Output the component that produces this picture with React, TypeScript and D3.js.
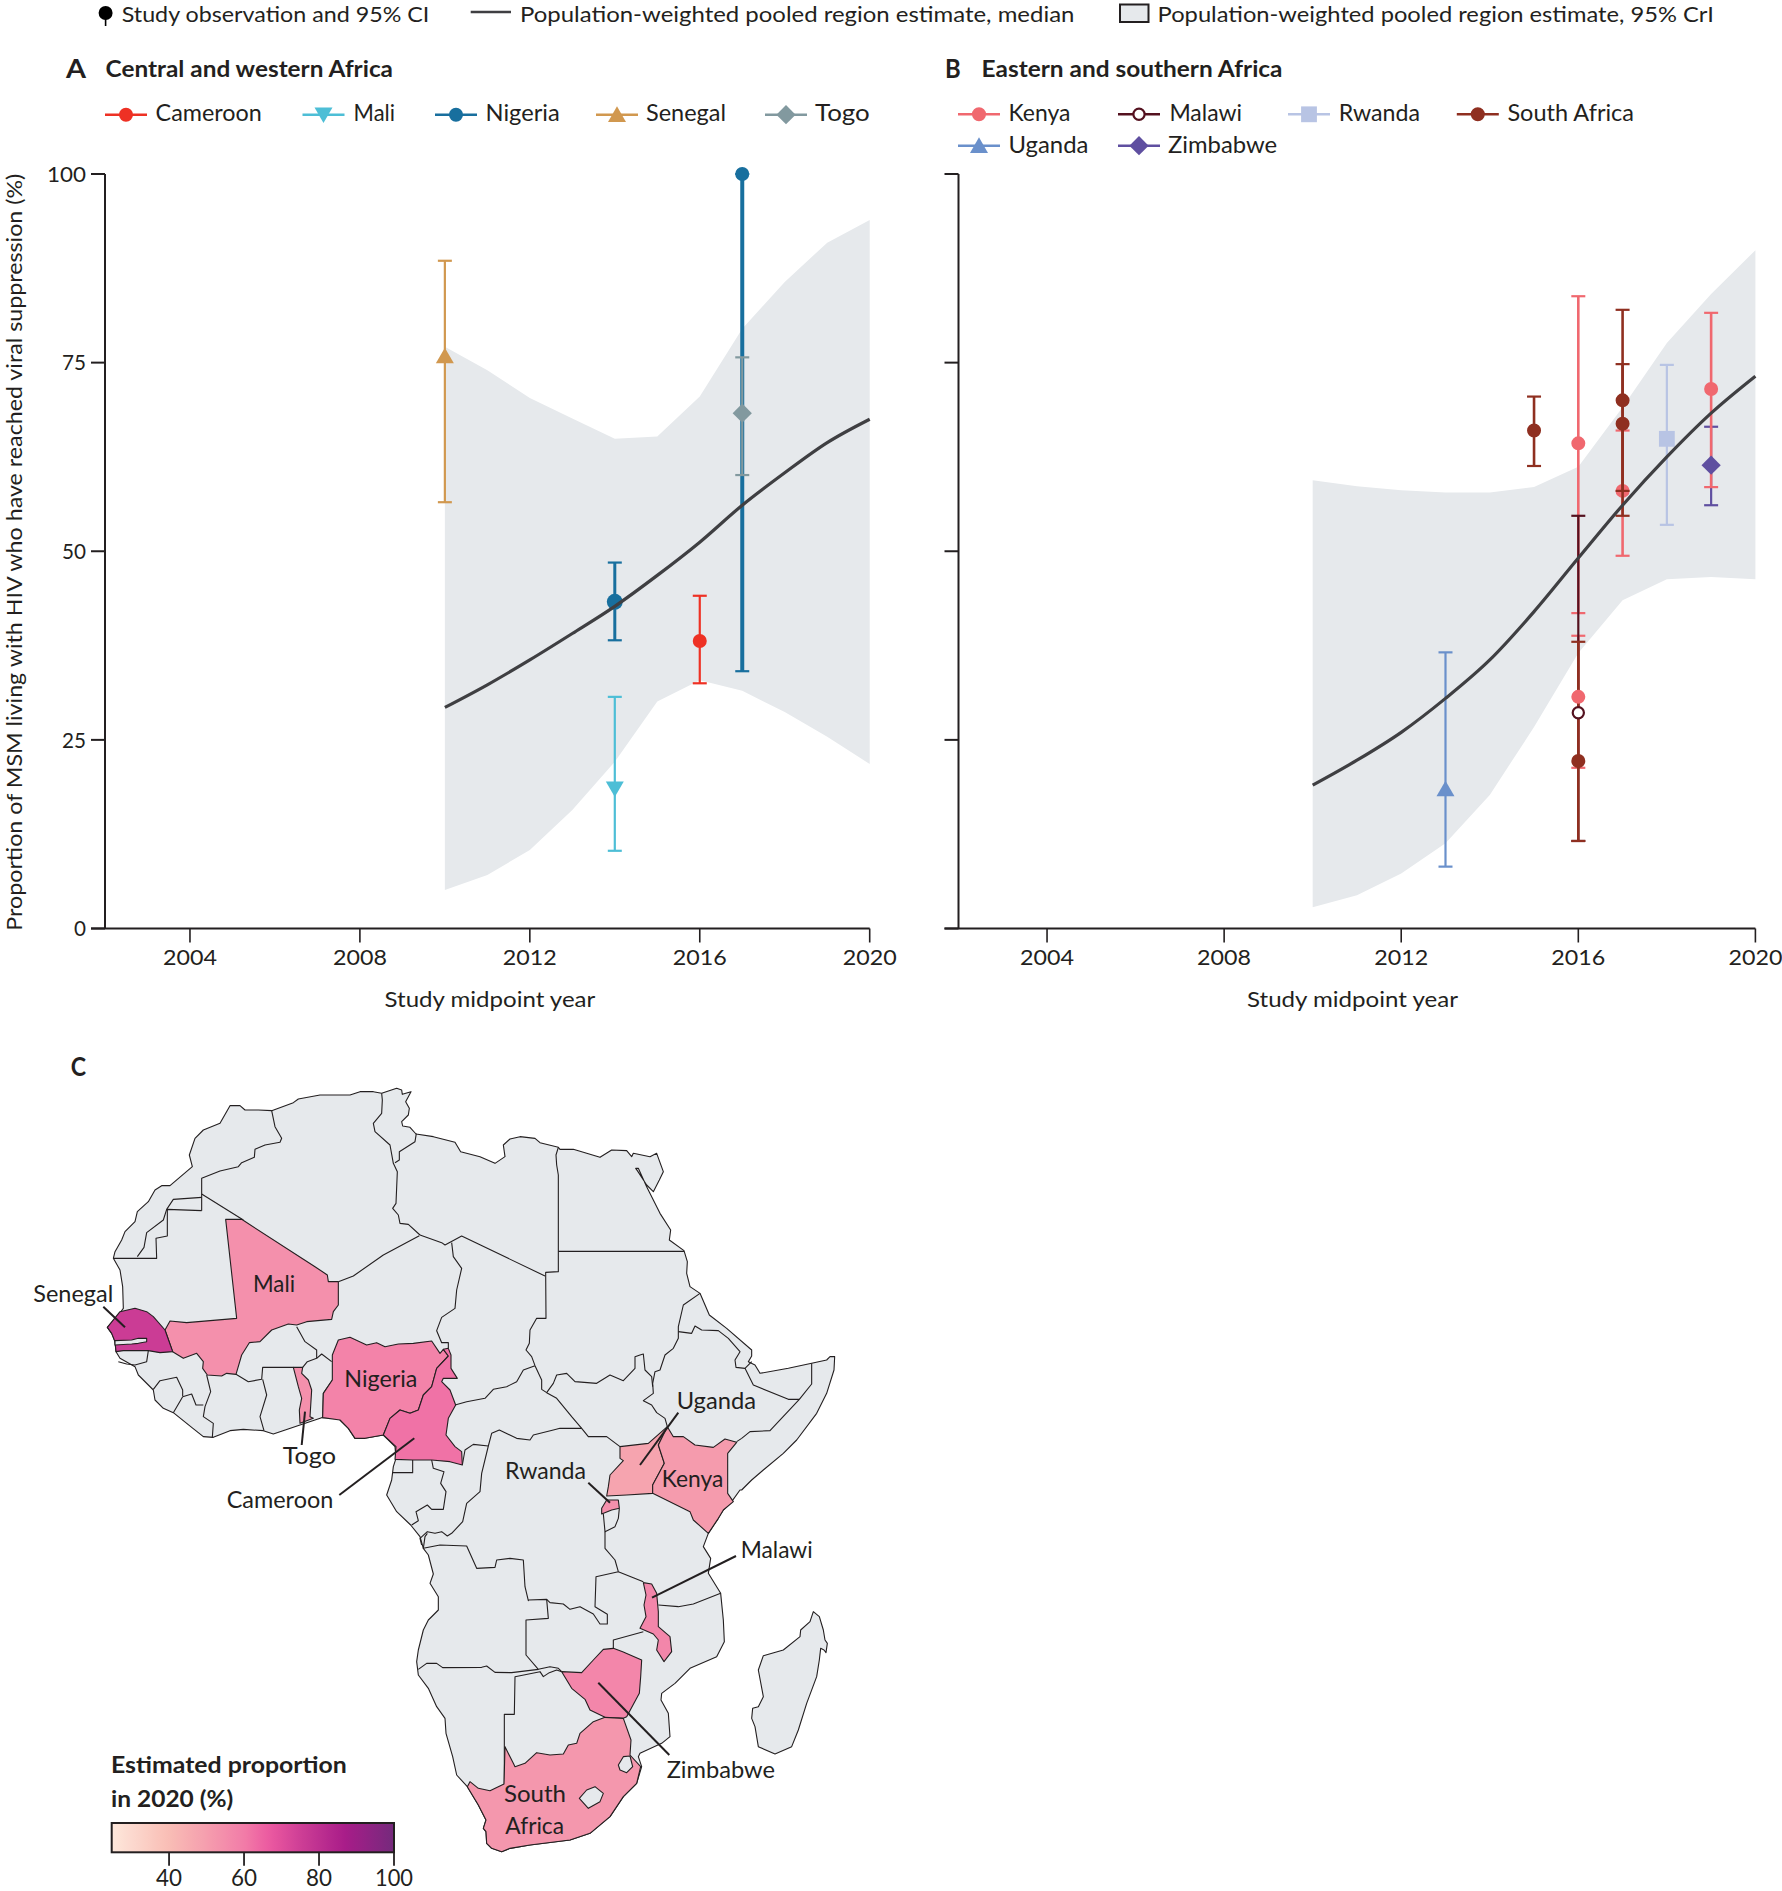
import React from "react";
import * as d3 from "d3";

// ---------- panel data ----------
const years = [2010, 2011, 2012, 2013, 2014, 2015, 2016, 2017, 2018, 2019, 2020];
const westUpper = [77.1, 74, 70.3, 67.6, 64.9, 65.2, 70.5, 79.5, 85.7, 90.9, 93.9];
const westLower = [5.1, 7.1, 10.4, 15.7, 22.1, 30.1, 32.9, 31.5, 28.7, 25.4, 21.8];
const westMedian = [29.3, 32.3, 35.6, 39.1, 42.7, 46.8, 51.2, 56.1, 60.4, 64.4, 67.5];
const eastUpper = [59.4, 58.6, 58.1, 57.8, 57.8, 58.5, 61.2, 69.1, 77.6, 84.1, 89.9];
const eastLower = [2.8, 4.4, 7.3, 11.3, 17.7, 26.7, 36.5, 43.5, 46.3, 46.6, 46.3];
const eastMedian = [19, 22.3, 26, 30.5, 35.6, 42, 49.1, 56.1, 62.5, 68.3, 73.2];

type Obs = { c: string; year: number; mean: number; lo: number; hi: number; heavy?: number };
const westObs: Obs[] = [
  { c: "Senegal", year: 2010, mean: 75.6, lo: 56.5, hi: 88.5 },
  { c: "Mali", year: 2014, mean: 18.8, lo: 10.3, hi: 30.7 },
  { c: "Cameroon", year: 2016, mean: 38.1, lo: 32.5, hi: 44.1 },
  { c: "Nigeria", year: 2014, mean: 43.3, lo: 38.2, hi: 48.5, heavy: 1 },
  { c: "Nigeria", year: 2017, mean: 100, lo: 34.1, hi: 100, heavy: 2 },
  { c: "Togo", year: 2017, mean: 68.3, lo: 60.1, hi: 75.7 },
];
const eastObsUnder: Obs[] = [{ c: "Kenya", year: 2017, mean: 58, lo: 49.4, hi: 66 }];
const eastObs: Obs[] = [
  { c: "Zimbabwe", year: 2019, mean: 61.4, lo: 56.1, hi: 66.5 },
  { c: "Uganda", year: 2013, mean: 18.2, lo: 8.2, hi: 36.6 },
  { c: "Rwanda", year: 2018, mean: 64.9, lo: 53.5, hi: 74.7 },
  { c: "Kenya", year: 2016, mean: 64.3, lo: 41.8, hi: 83.8 },
  { c: "Kenya", year: 2016, mean: 30.7, lo: 21.3, hi: 38.8 },
  { c: "Kenya", year: 2019, mean: 71.5, lo: 58.5, hi: 81.6 },
  { c: "Malawi", year: 2016, mean: 28.6, lo: 11.6, hi: 54.7 },
  { c: "South Africa", year: 2015, mean: 66, lo: 61.3, hi: 70.5 },
  { c: "South Africa", year: 2016, mean: 22.2, lo: 11.6, hi: 38 },
  { c: "South Africa", year: 2017, mean: 70, lo: 54.7, hi: 82 },
  { c: "South Africa", year: 2017, mean: 66.9, lo: 58, hi: 74.8 },
];

const seriesColor: Record<string, string> = {
  Cameroon: "#EE3124", Mali: "#4DBED6", Nigeria: "#186F9E", Senegal: "#D1984F", Togo: "#82999F",
  Kenya: "#F0686F", Malawi: "#54111F", Rwanda: "#B8C4E4", "South Africa": "#8F2F20",
  Uganda: "#6A90CB", Zimbabwe: "#5F4FA0",
};
const seriesShape: Record<string, string> = {
  Cameroon: "circle", Mali: "down", Nigeria: "circle", Senegal: "up", Togo: "diamond",
  Kenya: "circle", Malawi: "hollow", Rwanda: "square", "South Africa": "circle",
  Uganda: "up", Zimbabwe: "diamond",
};

const yTicks = [0, 25, 50, 75, 100];
const xTicks = [2004, 2008, 2012, 2016, 2020];

// ---------- map data: outlines, each run in the frame of one crop ----------
type Run = [string, number[]];
const frames: Record<string, [number, number]> = {
  W: [0, 1040], E: [430, 1040], S: [430, 1480], SW: [60, 1480], C: [340, 1330], N: [340, 1100],
};

const coast: Run[] = [
  ["W", [340,655,345,635,365,600,375,575,405,545,412,515,445,485,465,450,485,437,510,437,577,380,568,345,585,295,610,270,660,250,690,197,720,197,735,210,775,210,815,212,880,188,895,177,960,165,1050,165,1080,155,1120,155,1145,160,1190,145,1205,150,1207,163,1233,155,1217,185,1228,205,1225,225,1205,245,1208,258,1230,262,1248,282]],
  ["N", [280,110,345,127,362,155,420,170,465,190,495,170,490,135,510,117,540,110,585,115,600,128,655,142,660,148]],
  ["E", [430,328,510,352,545,330,590,332,605,350,610,340,660,350,680,340,700,395,688,420,670,455,650,435,622,392,617,385,625,385,650,440,690,520,722,570,718,600,762,632,772,665,770,700,780,740,810,760,838,825,890,865,965,930,965,948,955,965,975,975,990,1000,1075,985,1145,970,1190,960,1200,950,1214,950,1212,990,1190,1060,1160,1120,1100,1200,1060,1240,1000,1290,965,1320,935,1350]],
  ["S", [930,30,905,65,880,90,865,115,835,160,820,200,842,235,835,280,872,340,880,420,883,485,860,530,780,565,735,610,695,640,693,660,715,700,720,770,695,790,630,820,625,830,635,860,620,910,580,950,540,1010,480,1060,420,1080,300,1095,240,1105,215,1115,185,1105,170,1090,168,1055,160,1045,168,1020,145,975,112,920]],
  ["SW", [1190,885,1178,830,1158,760,1155,715,1130,680,1105,625,1075,585,1070,545,1075,510,1090,450,1105,420,1135,390,1135,350,1110,310,1120,282,1105,225,1090,205,1080,170,1052,135,1010,95,980,45,995,0]],
  ["C", [160,410,168,385,165,350,130,315,75,325,45,325,25,295,0,270]],
  ["W", [1020,1133,965,1133,900,1155,820,1182,790,1172,730,1168,690,1172,640,1192,610,1190,575,1162,520,1118,490,1105,465,1080,460,1050,415,1005,405,980,360,955,348,935,345,905,335,880,322,862,355,825,370,805,368,740,360,690]],
];

const borders: Run[][] = [
  [["W", [815,212,825,260,845,295,840,307,795,315,765,328,763,352,725,368,715,380,660,393,605,415,605,512]]],
  [["W", [605,462,730,540]]],
  [["W", [605,472,520,478,500,508,490,540,440,578,432,622,412,650]]],
  [["W", [605,512,502,508,502,588,468,595,470,655,340,655]]],
  [["W", [355,965,380,972,405,975,440,965,445,932]]],
  [["W", [460,1048,480,1022,530,1012,548,1050,548,1068]]],
  [["W", [520,1118,548,1070,575,1062,588,1095,610,1095]]],
  [["W", [637,1192,640,1150,610,1130,615,1100,632,1055,620,1005]]],
  [["W", [708,1003,745,1025,785,1018,788,982,880,982]]],
  [["W", [788,1018,800,1065,780,1130,792,1172]]],
  [["W", [908,982,922,965,950,955,965,942,995,965]]],
  [["W", [950,955,950,930,915,905,890,860]]],
  [["W", [968,1133,970,1060,997,1020]]],
  [["W", [1015,725,1060,708,1150,645,1258,587]]],
  [["W", [1145,160,1147,180]], ["N", [125,40,100,70,105,95,150,135,160,190,172,215,168,310,158,325,175,345,180,370,205,373,240,405]]],
  [["N", [229,100,225,125,178,155,178,180,165,188]]],
  [["N", [240,405,305,428,315,435,365,408,615,528]]],
  [["N", [335,428,340,470,365,505,350,570,345,625,305,652,290,692,305,728,325,728,325,745]]],
  [["N", [655,142,648,165,650,195,655,225,655,515,617,517,618,655,590,655,570,690,568,730,558,750,575,770,585,797]]],
  [["E", [385,634,762,634]]],
  [["C", [585,107,550,120,530,155,500,170,460,178,435,205,380,215,345,225]]],
  [["C", [585,107,605,150,605,178,620,188,650,205,695,260,725,295,745,320,800,320,840,350]]],
  [["C", [620,188,640,160,650,135,680,130,705,155,770,160,810,135,850,152,885,115,885,80,900,75]], ["E", [640,942,645,990,665,1010,668,1040]]],
  [["E", [810,760,760,795,745,860,745,895,730,925,705,945,690,990,675,995,668,1030,670,1060,640,1082,665,1095,680,1118,705,1135,712,1160]]],
  [["E", [745,875,785,880,795,858,815,870,865,872,895,895,930,935,915,960,918,982,945,985,965,965]]],
  [["E", [945,985,970,1035,1075,1078,1108,1078,1020,1172,960,1175,935,1195,920,1205]]],
  [["E", [1145,970,1145,1032,1108,1078]]],
  [["C", [445,348,455,310,478,300,530,325,570,330,580,315,640,300,660,295,725,295]]],
  [["C", [367,405,375,360,400,343,445,348,425,430,420,485,380,520,368,575,335,610,322,618,305,605,285,610,262,605,240,625,245,645]]],
  [["C", [215,585,235,572,228,545,262,525,275,538,310,538,318,485,302,460,312,425,280,415,275,390]]],
  [["C", [158,428,218,428,218,390]]],
  [["C", [262,610,255,620,250,655,300,645,380,648,410,715,465,712,470,690,510,685,550,690,555,770,565,812]], ["S", [295,360,350,358,360,368,400,372,420,388,450,380,490,402,510,432,532,432,532,403,495,380,498,290,565,275,640,305]]],
  [["S", [350,358,355,415,288,420,288,525,325,568]]],
  [["C", [790,552,795,605,825,590,835,565,838,535]]],
  [["C", [795,605,795,655,825,690,835,725]]],
  [["SW", [1075,568,1100,550,1130,550,1148,563,1265,562,1280,558,1305,577]], ["S", [245,578,325,568,360,560,385,565,395,575]]],
  [["S", [223,915,223,703,253,703,255,590,330,575,340,590,358,578,380,570,395,575]]],
  [["S", [550,505,550,480,640,455]]],
  [["S", [685,375,745,380,790,372,872,340]]],
];

const madagascar: Run[] = [["S", [1150,395,1168,410,1180,450,1185,480,1192,490,1188,518,1182,510,1172,505,1168,540,1160,590,1130,670,1105,750,1085,800,1035,822,985,800,975,740,965,715,968,685,985,680,1000,650,985,570,1000,527,1060,510,1110,470,1112,450,1140,425]]];
const enclaves: Run[][] = [
  [["W", [345,902,395,900,415,895,440,895,440,905,415,910,395,912,345,915]]],
  [["S", [448,955,470,930,495,920,520,940,510,965,475,985]]],
  [["S", [565,855,580,830,600,828,608,860,590,878,570,870]]],
];

const mapCountries: { name: string; pct: number; outline: Run[] }[] = [
  { name: "Mali", pct: 54, outline: [["W", [677,538,725,538,945,680,982,705,985,725,1015,725,1015,795,1000,815,995,838,920,845,890,855,865,852,815,870,780,905,748,908,725,945,708,1003,680,1000,665,1008,622,1005,608,985,610,965,590,940,550,955,518,935,495,870,510,843,560,848,710,835,705,790]]] },
  { name: "Senegal", pct: 76, outline: [["W", [322,862,360,815,405,805,440,815,460,830,495,870,518,935,480,938,445,932,370,932,348,935,345,905,335,880]]] },
  { name: "Togo", pct: 54, outline: [["W", [880,982,908,982,905,1000,925,1020,935,1050,930,1130,940,1135,900,1150,898,1110,905,1075,895,1040]]] },
  { name: "Nigeria", pct: 58, outline: [["W", [968,1133,970,1060,997,1020,997,945,1015,900,1050,892,1100,915,1130,908,1155,920,1195,912,1240,910,1295,903,1320,940]], ["C", [310,58,325,78,290,115,275,170,250,195,235,240,210,250,180,240,150,265,130,315,75,325,45,325,25,295,0,270]]] },
  { name: "Cameroon", pct: 62, outline: [["C", [130,315,150,265,180,240,210,250,235,240,250,195,275,170,290,115,325,78,310,58,325,55,333,75,333,115,352,145,310,145,305,155,330,180,347,225,325,265,318,315,345,350,365,365,367,405,330,395,275,390,218,390,165,388,168,350]]] },
  { name: "Uganda", pct: 48, outline: [["E", [570,1220,655,1210,712,1160,685,1215,703,1270,668,1335]], ["S", [668,40,590,45,530,48,535,20]], ["E", [540,1305,580,1262,570,1255]]] },
  { name: "Kenya", pct: 51, outline: [["E", [712,1160,730,1190,760,1190,795,1215,850,1222,885,1197,920,1207,893,1240,893,1320]], ["S", [893,40,910,65,880,90,865,115,835,160,790,120,780,95,668,40]], ["E", [668,1335,703,1270,685,1215]]] },
  { name: "Rwanda", pct: 54, outline: [["C", [785,552,785,535,800,510,835,510,838,535,815,540]]] },
  { name: "Malawi", pct: 57, outline: [["S", [640,308,665,312,680,340,685,395,685,440,720,470,725,515,702,545,680,510,685,480,670,462,630,445,648,410,642,375,648,345]]] },
  { name: "Zimbabwe", pct: 57, outline: [["S", [395,575,455,578,490,540,520,508,550,505,578,515,635,540,632,590,628,640,590,710,580,715,525,712,480,690,465,658,425,625]]] },
  { name: "South Africa", pct: 52, outline: [["S", [120,905,145,925,180,932,222,912,225,800,250,850,255,860,285,850,320,818,360,825,400,822,415,795,440,790,450,760,490,725,525,712,580,715,603,780,600,825,632,860,620,910,580,950,540,1010,480,1060,420,1080,300,1095,240,1105,215,1115,185,1105,170,1090,168,1055,160,1045,168,1020,145,975,112,920]]] },
];

const leaders: [string, number[]][] = [
  ["Senegal", [103.3,1306.7,125,1327.3]], ["Togo", [305,1411.7,301.7,1445]], ["Cameroon", [414.3,1438.3,339.3,1495]],
  ["Uganda", [678.3,1412.7,640,1465]], ["Rwanda", [588.3,1482.7,610,1502.7]], ["Malawi", [736,1556,652,1597.7]],
  ["Zimbabwe", [598.3,1682.7,669.3,1755]],
];

const scaleStopsAt = [24.7, 40, 50, 60, 67, 75, 87, 100];
const scaleStopsColor = ["#FDE8DC", "#F9BDB5", "#F59EAE", "#F27CA8", "#EB58A0", "#CE3F96", "#A81C89", "#752A7C"];
const barTicks = [40, 60, 80, 100];

// ---------- helpers ----------
const INK = "#231F20";
const RIBBON = "#E6E9EC";
const FONT = "Lato, 'Open Sans', sans-serif";

const colorOf = d3.scaleLinear<string>().domain(scaleStopsAt).range(scaleStopsColor).interpolate(d3.interpolateRgb);
const runs2pts = (runs: Run[]): [number, number][] => {
  const out: [number, number][] = [];
  runs.forEach(([frame, flat]) => {
    const [ox, oy] = frames[frame];
    const fx = d3.scaleLinear().domain([0, 3]).range([ox, ox + 1]);
    const fy = d3.scaleLinear().domain([0, 3]).range([oy, oy + 1]);
    for (let i = 0; i < flat.length; i += 2) out.push([fx(flat[i]), fy(flat[i + 1])]);
  });
  return out;
};
const lineGen = d3.line();

function T(p: { x: number; x2?: number; y: number; s: string; size?: number; w?: number; anchor?: string; len?: number; fill?: string }) {
  const len = p.len ?? (p.x2 !== undefined ? p.x2 - p.x : undefined);
  return (
    <text x={p.x} y={p.y} fontSize={p.size ?? 23} fontWeight={p.w ?? 400} fontFamily={FONT} fill={p.fill ?? INK}
      textAnchor={p.anchor ?? "start"} textLength={len} lengthAdjust="spacingAndGlyphs">{p.s}</text>
  );
}

function Marker({ c, x, y, big }: { c: string; x: number; y: number; big?: boolean }) {
  const shape = seriesShape[c];
  const col = seriesColor[c];
  if (shape === "hollow") return <circle cx={x} cy={y} r={5.6} fill="#fff" stroke={col} strokeWidth={2.2} />;
  const sym = shape === "circle" ? d3.symbolCircle : shape === "up" || shape === "down" ? d3.symbolTriangle : d3.symbolSquare;
  const size = shape === "circle" ? (big ? 200 : 154) : shape === "square" ? 250 : shape === "diamond" ? 185 : 140;
  const rot = shape === "down" ? 180 : shape === "diamond" ? 45 : 0;
  return <path d={d3.symbol().type(sym).size(size)()!} transform={`translate(${x},${y}) rotate(${rot})`} fill={col} />;
}

function Panel(props: { x0: number; x1: number; upper: number[]; lower: number[]; median: number[]; under: Obs[]; obs: Obs[]; showY: boolean; titleX: [number, number] }) {
  const { x0, x1, upper, lower, median, under, obs, showY, titleX } = props;
  const x = d3.scaleLinear().domain([2002, 2020]).range([x0, x1]);
  const y = d3.scaleLinear().domain([0, 100]).range([928.5, 174]);
  const area = d3.area<number>().x((_, i) => x(years[i])).y0((_, i) => y(lower[i])).y1((_, i) => y(upper[i]));
  const med = d3.line<number>().x((_, i) => x(years[i])).y((d) => y(d)).curve(d3.curveMonotoneX);
  const bar = (o: Obs, i: number) => {
    const col = seriesColor[o.c];
    const sw = o.heavy === 2 ? 4 : o.heavy === 1 ? 3 : o.c === "Kenya" || o.c === "South Africa" ? 2.6 : 2.2;
    const cx = x(o.year);
    return (
      <g key={"b" + o.c + o.mean + i} stroke={col} strokeWidth={sw} fill="none">
        <line x1={cx} x2={cx} y1={y(o.lo)} y2={y(o.hi)} />
        <line x1={cx - 7} x2={cx + 7} y1={y(o.lo)} y2={y(o.lo)} strokeWidth={2.2} />
        <line x1={cx - 7} x2={cx + 7} y1={y(o.hi)} y2={y(o.hi)} strokeWidth={2.2} />
      </g>
    );
  };
  const mark = (o: Obs, i: number) => <Marker key={"m" + o.c + o.mean + i} c={o.c} x={x(o.year)} y={y(o.mean)} big={o.heavy === 1} />;
  return (
    <g>
      <path d={area(upper)!} fill={RIBBON} />
      {under.map(bar)}
      {under.map(mark)}
      {obs.map(bar)}
      {obs.map(mark)}
      <path d={med(median)!} fill="none" stroke="#3F3F42" strokeWidth={3.2} />
      <line x1={x(2002)} x2={x(2002)} y1={y(0)} y2={y(100)} stroke={INK} strokeWidth={2} />
      <line x1={x(2002) - 14} x2={x(2020)} y1={y(0)} y2={y(0)} stroke={INK} strokeWidth={2} />
      {yTicks.map((t) => (
        <g key={t}>
          <line x1={x(2002) - 14} x2={x(2002)} y1={y(t)} y2={y(t)} stroke={INK} strokeWidth={2} />
          {showY && <T x={86} y={y(t) + 7.8} s={String(t)} anchor="end" size={22} len={t === 100 ? 39 : t === 0 ? 12 : 24} />}
        </g>
      ))}
      {xTicks.map((t) => (
        <g key={t}>
          <line x1={x(t)} x2={x(t)} y1={y(0)} y2={y(0) + 14} stroke={INK} strokeWidth={1.6} />
          <T x={x(t)} y={965} s={String(t)} anchor="middle" size={22} len={54} />
        </g>
      ))}
      <T x={titleX[0]} x2={titleX[1]} y={1006.7} s="Study midpoint year" size={22} />
    </g>
  );
}

function LegendItem({ c, lx, tx, tx2, y, base }: { c: string; lx: number; tx: number; tx2: number; y: number; base: number }) {
  return (
    <g>
      <line x1={lx} x2={lx + 42} y1={y} y2={y} stroke={seriesColor[c]} strokeWidth={2.4} />
      <Marker c={c} x={lx + 21} y={y + (seriesShape[c] === "up" ? 2 : seriesShape[c] === "down" ? -2 : 0)} />
      <T x={tx} x2={tx2} y={base} s={c} size={23} />
    </g>
  );
}

export default function App() {
  const barX = d3.scaleLinear().domain([24.7, 100]).range([111.7, 394]);
  const stops = d3.range(0, 41).map((i) => 24.7 + (i * (100 - 24.7)) / 40);
  return (
    <svg width={1782} height={1891} viewBox="0 0 1782 1891" style={{ position: "absolute", left: 0, top: 0, display: "block", background: "#fff" }}>
      <defs>
        <linearGradient id="pct" x1="0" x2="1" y1="0" y2="0">
          {stops.map((v, i) => <stop key={i} offset={i / 40} stopColor={colorOf(v)} />)}
        </linearGradient>
      </defs>

      {/* top legend */}
      <line x1={105.6} x2={105.6} y1={7} y2={26} stroke="#000" strokeWidth={1.6} />
      <circle cx={105.6} cy={13} r={7} fill="#000" />
      <T x={121.7} x2={429.4} y={21.5} size={21.5} s="Study observation and 95% CI" />
      <line x1={470.7} x2={511} y1={12} y2={12} stroke="#3F3F42" strokeWidth={2.4} />
      <T x={520} x2={1074.4} y={21.5} size={21.5} s="Population-weighted pooled region estimate, median" />
      <rect x={1120} y={4.5} width={28.5} height={17.5} fill={RIBBON} stroke={INK} strokeWidth={2} />
      <T x={1157.6} x2={1713.8} y={21.5} size={21.5} s="Population-weighted pooled region estimate, 95% CrI" />

      {/* panel headers */}
      <T x={66} x2={86} y={77.7} s="A" size={26} w={700} />
      <T x={105.6} x2={393} y={77.3} s="Central and western Africa" size={23} w={700} />
      <T x={945} x2={960.7} y={77.7} s="B" size={26} w={700} />
      <T x={981.6} x2={1282.5} y={77.3} s="Eastern and southern Africa" size={23} w={700} />

      {/* legends */}
      <LegendItem c="Cameroon" lx={105} tx={155.6} tx2={261.8} y={114.7} base={120.7} />
      <LegendItem c="Mali" lx={302.5} tx={353.6} tx2={395} y={114.7} base={120.7} />
      <LegendItem c="Nigeria" lx={435} tx={485.6} tx2={559.7} y={114.7} base={120.7} />
      <LegendItem c="Senegal" lx={596} tx={646} tx2={726} y={114.7} base={120.7} />
      <LegendItem c="Togo" lx={765} tx={815} tx2={869.7} y={114.7} base={120.7} />
      <LegendItem c="Kenya" lx={958} tx={1008.5} tx2={1070.4} y={114.3} base={121} />
      <LegendItem c="Malawi" lx={1118} tx={1169.4} tx2={1242} y={114.3} base={121} />
      <LegendItem c="Rwanda" lx={1288} tx={1338.7} tx2={1420} y={114.3} base={121} />
      <LegendItem c="South Africa" lx={1456.8} tx={1507.4} tx2={1634} y={114.3} base={121} />
      <LegendItem c="Uganda" lx={958} tx={1008.5} tx2={1088.4} y={145.7} base={152.7} />
      <LegendItem c="Zimbabwe" lx={1118} tx={1168} tx2={1277} y={145.7} base={152.7} />

      <Panel x0={105} x1={869.7} upper={westUpper} lower={westLower} median={westMedian} under={[]} obs={westObs} showY titleX={[384.6, 595.3]} />
      <Panel x0={958.5} x1={1755.4} upper={eastUpper} lower={eastLower} median={eastMedian} under={eastObsUnder} obs={eastObs} showY={false} titleX={[1247, 1458]} />

      <g transform="translate(22,930.7) rotate(-90)">
        <T x={0} x2={757} y={0} s="Proportion of MSM living with HIV who have reached viral suppression (%)" size={22} />
      </g>

      {/* map */}
      <T x={70.7} x2={86} y={1076} s="C" size={26} w={700} />
      <g stroke={INK} strokeWidth={1.1} strokeLinejoin="round">
        <path d={lineGen(runs2pts(coast))! + "Z"} fill={RIBBON} />
        <path d={lineGen(runs2pts(madagascar))! + "Z"} fill={RIBBON} />
        {borders.map((b, i) => <path key={i} d={lineGen(runs2pts(b))!} fill="none" />)}
        {mapCountries.map((c) => <path key={c.name} d={lineGen(runs2pts(c.outline))! + "Z"} fill={colorOf(c.pct)} />)}
        {enclaves.map((b, i) => <path key={i} d={lineGen(runs2pts(b))! + "Z"} fill={RIBBON} />)}
      </g>
      {leaders.map(([n, p]) => <line key={n} x1={p[0]} y1={p[1]} x2={p[2]} y2={p[3]} stroke={INK} strokeWidth={2} />)}
      <T x={33.3} x2={113.3} y={1301.7} s="Senegal" />
      <T x={253} x2={295} y={1291.7} s="Mali" />
      <T x={344.3} x2={417.3} y={1386.7} s="Nigeria" />
      <T x={282.7} x2={336} y={1464} s="Togo" />
      <T x={226.7} x2={333.3} y={1508.3} s="Cameroon" />
      <T x={676.7} x2={756} y={1409} s="Uganda" />
      <T x={505} x2={586} y={1479} s="Rwanda" />
      <T x={661.7} x2={723.3} y={1487} s="Kenya" />
      <T x={740.7} x2={812.7} y={1558.3} s="Malawi" />
      <T x={666.7} x2={775} y={1777.7} s="Zimbabwe" />
      <T x={504} x2={566} y={1801.7} s="South" />
      <T x={505.3} x2={564} y={1834.3} s="Africa" />

      {/* colour bar */}
      <T x={111} x2={346.7} y={1773.3} s="Estimated proportion" size={23} w={700} />
      <T x={111} x2={233.3} y={1806.7} s="in 2020 (%)" size={23} w={700} />
      <rect x={111.7} y={1823} width={282.3} height={29.3} fill="url(#pct)" stroke={INK} strokeWidth={2} />
      {barTicks.map((t) => (
        <g key={t}>
          <line x1={barX(t)} x2={barX(t)} y1={1852.3} y2={1865.7} stroke={INK} strokeWidth={1.8} />
          <T x={barX(t)} y={1885.5} s={String(t)} anchor="middle" size={23.5} len={t === 100 ? 38 : 26} />
        </g>
      ))}
    </svg>
  );
}
